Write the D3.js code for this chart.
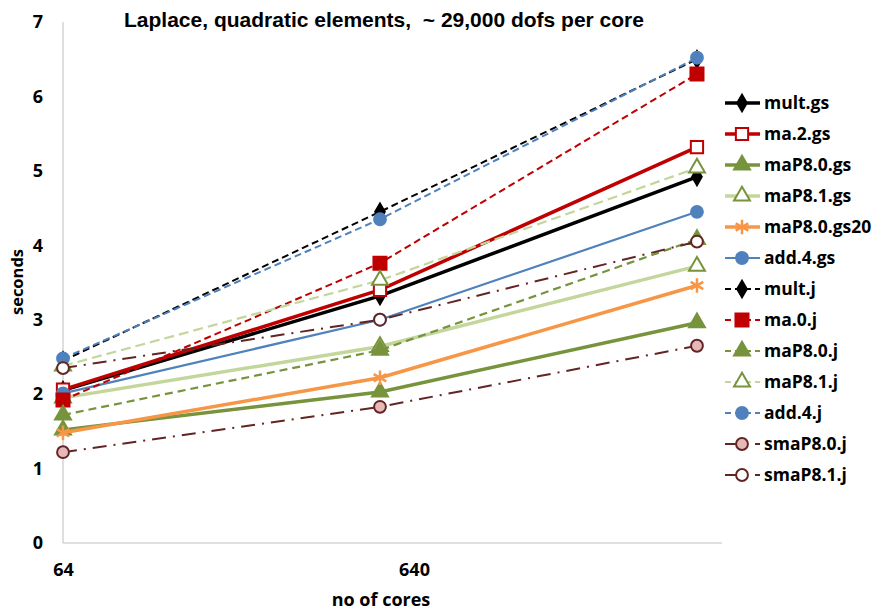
<!DOCTYPE html>
<html>
<head>
<meta charset="utf-8">
<script src="https://cdnjs.cloudflare.com/ajax/libs/d3/7.8.5/d3.min.js"></script>
<style>
  body { margin: 0; background: #fff; }
  svg text { font-family: "Open Sans", "Liberation Sans", sans-serif; font-weight: bold; }
</style>
</head>
<body>
<div id="chart"></div>
<script>
// data (x = number of cores, log axis)
const cores = [64, 512, 4096];
const xTickLabels = [64, 640];
const yTicks = [0, 1, 2, 3, 4, 5, 6, 7];

const multGs = [2.05, 3.32, 4.92];
const ma2Gs = [2.06, 3.40, 5.32];
const maP80Gs = [1.52, 2.03, 2.96];
const maP81Gs = [1.95, 2.64, 3.72];
const maP80Gs20 = [1.48, 2.22, 3.46];
const add4Gs = [2.01, 3.00, 4.45];
const multJ = [2.45, 4.45, 6.50];
const ma0J = [1.92, 3.76, 6.30];
const maP80J = [1.72, 2.59, 4.08];
const maP81J = [2.38, 3.53, 5.04];
const add4J = [2.48, 4.35, 6.52];
const smaP80J = [1.22, 1.83, 2.65];
const smaP81J = [2.35, 3.00, 4.05];

const series = [
  {name: 'mult.gs', values: multGs, color: '#000000', width: 3.5, dash: null, marker: 'diamond', fill: '#000000', mstroke: '#000000'},
  {name: 'ma.2.gs', values: ma2Gs, color: '#c00000', width: 3.5, dash: null, marker: 'square', fill: '#ffffff', mstroke: '#c00000'},
  {name: 'maP8.0.gs', values: maP80Gs, color: '#77933c', width: 3.5, dash: null, marker: 'triangle', fill: '#77933c', mstroke: '#77933c'},
  {name: 'maP8.1.gs', values: maP81Gs, color: '#c3d69b', width: 3.5, dash: null, marker: 'triangle', fill: '#ffffff', mstroke: '#77933c'},
  {name: 'maP8.0.gs20', values: maP80Gs20, color: '#f79646', width: 3.5, dash: null, marker: 'asterisk', fill: 'none', mstroke: '#f79646'},
  {name: 'add.4.gs', values: add4Gs, color: '#4f81bd', width: 2.2, dash: null, marker: 'circle', fill: '#4f81bd', mstroke: '#4f81bd'},
  {name: 'mult.j', values: multJ, color: '#000000', width: 2, dash: '7,4', marker: 'diamond', fill: '#000000', mstroke: '#000000'},
  {name: 'ma.0.j', values: ma0J, color: '#c00000', width: 2, dash: '7,4', marker: 'squareFilled', fill: '#c00000', mstroke: '#c00000'},
  {name: 'maP8.0.j', values: maP80J, color: '#77933c', width: 2.2, dash: '8,5', marker: 'triangle', fill: '#77933c', mstroke: '#77933c'},
  {name: 'maP8.1.j', values: maP81J, color: '#c3d69b', width: 2.2, dash: '10,5', marker: 'triangle', fill: '#ffffff', mstroke: '#77933c'},
  {name: 'add.4.j', values: add4J, color: '#4f81bd', width: 2, dash: '7,4', marker: 'circle', fill: '#4f81bd', mstroke: '#4f81bd'},
  {name: 'smaP8.0.j', values: smaP80J, color: '#632523', width: 2, dash: '14,7,2,7', marker: 'circle', fill: '#e6b9b8', mstroke: '#632523'},
  {name: 'smaP8.1.j', values: smaP81J, color: '#632523', width: 2, dash: '14,7,2,7', marker: 'circle', fill: '#ffffff', mstroke: '#632523'}
];

const width = 881, height = 614;
const margin = {top: 22, left: 63, bottom: 71};
const plotRight = 722;

const svg = d3.select('#chart')
  .append('svg')
  .attr('width', width)
  .attr('height', height);

const x = d3.scaleLog()
  .domain([64, 6400])
  .range([margin.left, 765]);
const y = d3.scaleLinear()
  .domain([0, 7])
  .range([height - margin.bottom, margin.top]);

// axes lines
svg.append('line')
  .attr('x1', x(64)).attr('x2', x(64))
  .attr('y1', y(7)).attr('y2', y(0))
  .attr('stroke', '#bfbfbf').attr('stroke-width', 1);
svg.append('line')
  .attr('x1', x(64)).attr('x2', plotRight)
  .attr('y1', y(0)).attr('y2', y(0))
  .attr('stroke', '#bfbfbf').attr('stroke-width', 1);

// y axis
const yAxis = svg.append('g')
  .attr('transform', `translate(${x(64)},0)`)
  .call(d3.axisLeft(y).tickValues(yTicks).tickSize(0).tickPadding(20).tickFormat(d3.format('d')));
yAxis.select('.domain').remove();
yAxis.selectAll('text')
  .attr('font-size', '18px')
  .attr('font-family', '"Open Sans", sans-serif')
  .attr('font-weight', 'bold')
  .attr('fill', '#000');

// x axis
const xAxis = svg.append('g')
  .attr('transform', `translate(0,${y(0)})`)
  .call(d3.axisBottom(x).tickValues(xTickLabels).tickSize(0).tickPadding(20).tickFormat(d3.format('d')));
xAxis.select('.domain').remove();
xAxis.selectAll('text')
  .attr('font-size', '18px')
  .attr('font-family', '"Open Sans", sans-serif')
  .attr('font-weight', 'bold')
  .attr('fill', '#000');

// titles
svg.append('text')
  .attr('x', 384)
  .attr('y', 27)
  .attr('text-anchor', 'middle')
  .attr('font-size', '21px')
  .style('font-family', '"Liberation Sans", Arial, sans-serif')
  .style('white-space', 'pre')
  .text('Laplace, quadratic elements,  ~ 29,000 dofs per core');
svg.append('text')
  .attr('x', 381)
  .attr('y', 606)
  .attr('text-anchor', 'middle')
  .attr('font-size', '18px')
  .text('no of cores');
svg.append('text')
  .attr('transform', 'translate(23,282) rotate(-90)')
  .attr('text-anchor', 'middle')
  .attr('font-size', '16.5px')
  .text('seconds');

function markerPath(type) {
  switch (type) {
    case 'diamond': return d3.symbol(d3.symbolDiamond, 80)();
    case 'square': return d3.symbol(d3.symbolSquare, 150)();
    case 'squareFilled': return d3.symbol(d3.symbolSquare, 170)();
    case 'triangle': return d3.symbol(d3.symbolTriangle, 110)();
    case 'asterisk': return d3.symbol(d3.symbolAsterisk, 150)();
    case 'circle': return d3.symbol(d3.symbolCircle, 110)();
  }
}

const line = d3.line()
  .x((d, i) => x(cores[i]))
  .y(d => y(d));

// series
series.forEach(s => {
  svg.append('path')
    .datum(s.values)
    .attr('fill', 'none')
    .attr('stroke', s.color)
    .attr('stroke-width', s.width)
    .attr('stroke-dasharray', s.dash)
    .attr('d', line);
  svg.selectAll(null)
    .data(s.values)
    .enter()
    .append('path')
    .attr('transform', (d, i) => `translate(${x(cores[i])},${y(d)})`)
    .attr('d', markerPath(s.marker))
    .attr('fill', s.fill)
    .attr('stroke', s.mstroke)
    .attr('stroke-width', s.marker === 'asterisk' ? 2.5 : 2);
});

// legend
const legend = svg.append('g');
const legendY = d3.scalePoint()
  .domain(series.map(s => s.name))
  .range([103, 475]);
series.forEach(s => {
  const g = legend.append('g').attr('transform', `translate(0,${legendY(s.name)})`);
  g.append('line')
    .attr('x1', 725).attr('x2', 760)
    .attr('y1', 0).attr('y2', 0)
    .attr('stroke', s.color)
    .attr('stroke-width', s.width)
    .attr('stroke-dasharray', s.dash ? (s.name.startsWith('sma') ? '12,8,2,8' : '6,4') : null);
  g.append('path')
    .attr('transform', 'translate(742,0)')
    .attr('d', markerPath(s.marker))
    .attr('fill', s.fill)
    .attr('stroke', s.mstroke)
    .attr('stroke-width', s.marker === 'asterisk' ? 2.5 : 2);
  g.append('text')
    .attr('x', 764)
    .attr('y', 6)
    .attr('font-size', '17.5px')
    .text(s.name);
});
</script>
</body>
</html>
